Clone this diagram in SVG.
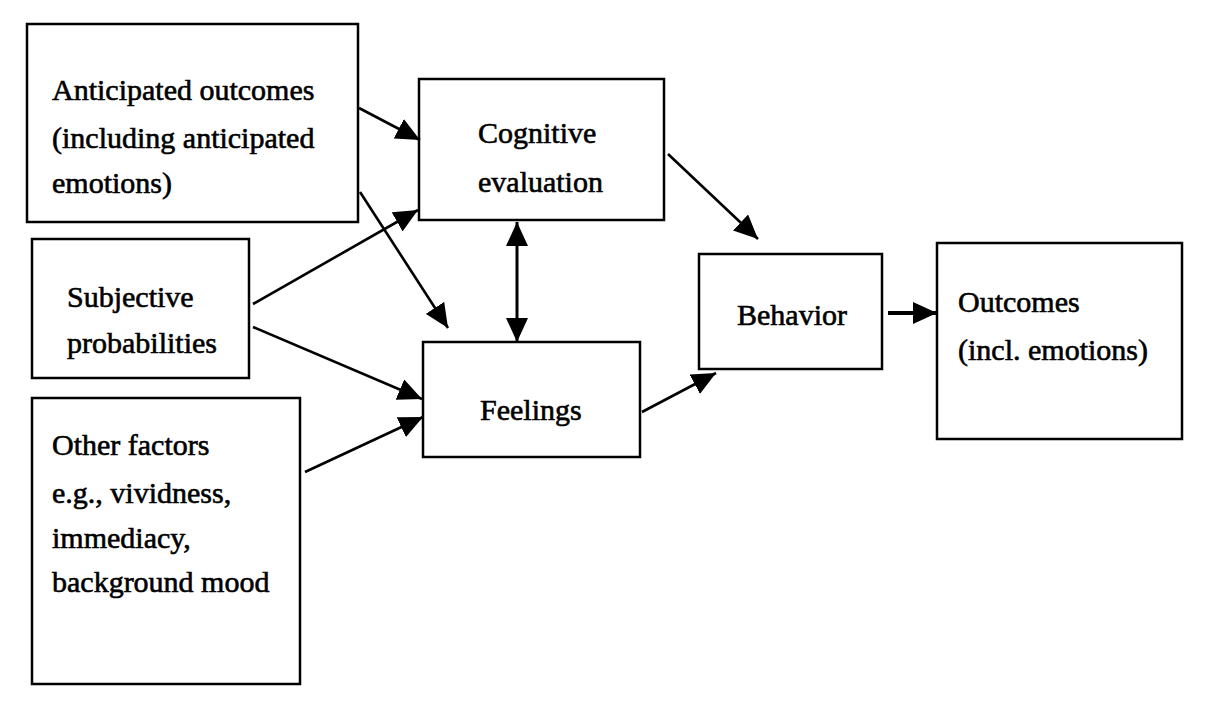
<svg xmlns="http://www.w3.org/2000/svg" width="1210" height="711" viewBox="0 0 1210 711" font-family="Liberation Serif, DejaVu Serif, serif">
<style>
.box{fill:#fff;stroke:#000;stroke-width:2.5}
.t{font-family:'Liberation Serif','Times New Roman',serif;font-size:30px;fill:#000;stroke:#000;stroke-width:0.6}
.c{stroke:#000;stroke-width:2.6;fill:none;marker-end:url(#ah)}
</style>
<defs>
<marker id="ah" viewBox="0 0 24 22" refX="24" refY="11" markerWidth="24" markerHeight="22" markerUnits="userSpaceOnUse" orient="auto-start-reverse">
<path d="M0,0 L24,11 L0,22 z" fill="#000"/>
</marker>
</defs>
<rect width="1210" height="711" fill="#fff"/>
<g id="anticipated">
<rect class="box" x="27" y="24" width="331" height="198"/>
<text class="t" x="52" y="100">Anticipated outcomes</text>
<text class="t" x="52" y="148">(including anticipated</text>
<text class="t" x="52" y="193">emotions)</text>
</g>
<g id="subjective">
<rect class="box" x="32" y="239" width="217" height="139"/>
<text class="t" x="67" y="307">Subjective</text>
<text class="t" x="67" y="353">probabilities</text>
</g>
<g id="other">
<rect class="box" x="32" y="398" width="268" height="286"/>
<text class="t" x="52" y="455">Other factors</text>
<text class="t" x="52" y="503">e.g., vividness,</text>
<text class="t" x="52" y="548">immediacy,</text>
<text class="t" x="52" y="592">background mood</text>
</g>
<g id="cognitive">
<rect class="box" x="419" y="79" width="245" height="141"/>
<text class="t" x="478" y="143">Cognitive</text>
<text class="t" x="478" y="192">evaluation</text>
</g>
<g id="feelings">
<rect class="box" x="423" y="342" width="217" height="115"/>
<text class="t" x="480" y="420">Feelings</text>
</g>
<g id="behavior">
<rect class="box" x="699" y="254" width="183" height="115"/>
<text class="t" x="737" y="325">Behavior</text>
</g>
<g id="outcomes">
<rect class="box" x="937" y="243" width="245" height="196"/>
<text class="t" x="958" y="312">Outcomes</text>
<text class="t" x="958" y="360">(incl. emotions)</text>
</g>
<g id="connectors">
<line class="c" x1="359" y1="108" x2="420" y2="140"/>
<line class="c" x1="360" y1="192" x2="448" y2="328"/>
<line class="c" x1="253" y1="304" x2="418" y2="210"/>
<line class="c" x1="253" y1="327" x2="422" y2="399"/>
<line class="c" x1="305" y1="472" x2="423" y2="417"/>
<line class="c" x1="517" y1="222" x2="517" y2="342" style="marker-start:url(#ah);stroke-width:3"/>
<line class="c" x1="668" y1="154" x2="758" y2="239"/>
<line class="c" x1="642" y1="412" x2="716" y2="373"/>
<line class="c" x1="888" y1="313" x2="937" y2="313" style="stroke-width:4"/>
</g>
</svg>
